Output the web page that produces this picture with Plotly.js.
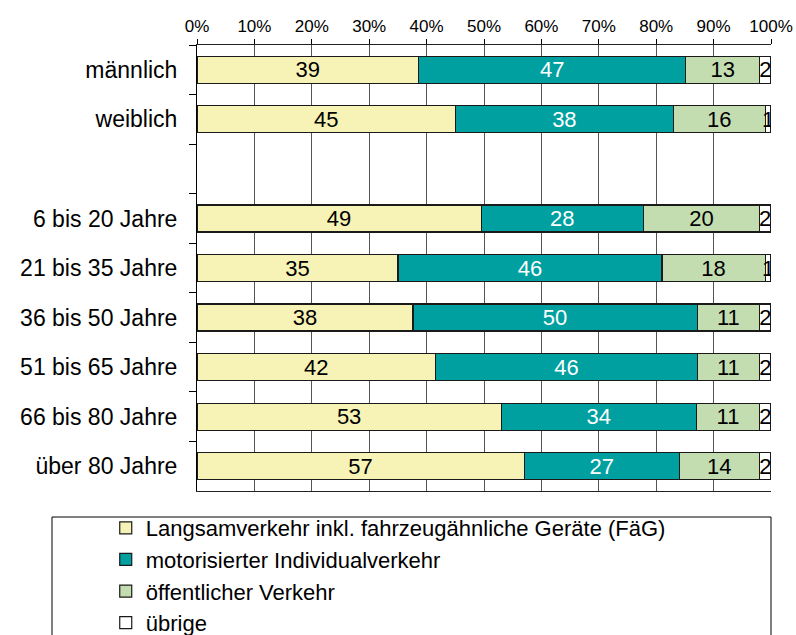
<!DOCTYPE html>
<html>
<head>
<meta charset="utf-8">
<script src="https://cdn.plot.ly/plotly-3.0.1.min.js"></script>
<style>html,body{margin:0;padding:0;background:#fff;}</style>
</head>
<body>
<div id="chart" style="width:796px;height:635px;"></div>
<script>
const categories = ["männlich", "weiblich", " ", "6 bis 20 Jahre", "21 bis 35 Jahre", "36 bis 50 Jahre", "51 bis 65 Jahre", "66 bis 80 Jahre", "über 80 Jahre"];
const langsamverkehr = [39, 45, null, 49, 35, 38, 42, 53, 57];
const motorisiert = [47, 38, null, 28, 46, 50, 46, 34, 27];
const oeffentlich = [13, 16, null, 20, 18, 11, 11, 11, 14];
const uebrige = [2, 1, null, 2, 1, 2, 2, 2, 2];
const seriesNames = ["Langsamverkehr inkl. fahrzeugähnliche Geräte (FäG)", "motorisierter Individualverkehr", "öffentlicher Verkehr", "übrige"];
const xTickVals = [0, 10, 20, 30, 40, 50, 60, 70, 80, 90, 100];

const FONT = "Liberation Sans, Arial, sans-serif";
const colors = ["#F7F2B5", "#00A0A0", "#C4DDB0", "#FFFFFF"];
const textColors = ["#000", "#fff", "#000", "#000"];
const allSeries = [langsamverkehr, motorisiert, oeffentlich, uebrige];

const traces = allSeries.map((vals, i) => ({
  type: "bar",
  orientation: "h",
  name: seriesNames[i],
  y: categories,
  x: vals,
  text: vals.map(v => v === null ? "" : String(v)),
  texttemplate: "%{text}",
  textposition: "inside",
  insidetextanchor: "middle",
  textangle: 0,
  constraintext: "none",
  cliponaxis: true,
  insidetextfont: {family: FONT, size: 22, color: textColors[i]},
  marker: {color: colors[i], line: {color: "#1a1a1a", width: 1.2}},
  legendgroup: "g" + i,
  hoverinfo: "x+y+name"
}));

const layout = {
  width: 796, height: 635,
  margin: {l: 197, r: 25, t: 45, b: 144, autoexpand: false},
  barmode: "stack",
  barnorm: "percent",
  bargap: 0.455,
  paper_bgcolor: "#fff",
  plot_bgcolor: "#fff",
  font: {family: FONT, color: "#000"},
  xaxis: {
    side: "top",
    range: [0, 100],
    tickvals: xTickVals,
    ticktext: xTickVals.map(v => v + "%"),
    ticks: "outside", ticklen: 5, tickcolor: "#000",
    showgrid: true, gridcolor: "#555", gridwidth: 1,
    showline: true, linecolor: "#222", linewidth: 1, mirror: true,
    zeroline: false,
    tickfont: {family: FONT, size: 17, color: "#000"},
    fixedrange: true
  },
  yaxis: {
    type: "category",
    autorange: "reversed",
    tickson: "boundaries",
    ticks: "outside", ticklen: 7, tickcolor: "#000",
    showline: true, linecolor: "#000", linewidth: 1,
    showgrid: false,
    ticklabelstandoff: 14,
    tickfont: {family: FONT, size: 23, color: "#000"},
    fixedrange: true
  },
  showlegend: true,
  legend: {
    orientation: "v",
    x: -0.159, xanchor: "left",
    y: -0.036, yanchor: "top",
    bgcolor: "rgba(0,0,0,0)",
    borderwidth: 0,
    traceorder: "normal",
    tracegroupgap: 2,
    font: {family: FONT, size: 22, color: "#000"}
  },
  shapes: [{
    type: "rect", xref: "paper", yref: "paper",
    x0: -0.2526, x1: 1.0, y0: -0.0583, y1: -0.34,
    line: {color: "#000", width: 1}, fillcolor: "rgba(0,0,0,0)", layer: "below"
  }]
};

Plotly.newPlot("chart", traces, layout, {displayModeBar: false, staticPlot: true});
</script>
</body>
</html>
